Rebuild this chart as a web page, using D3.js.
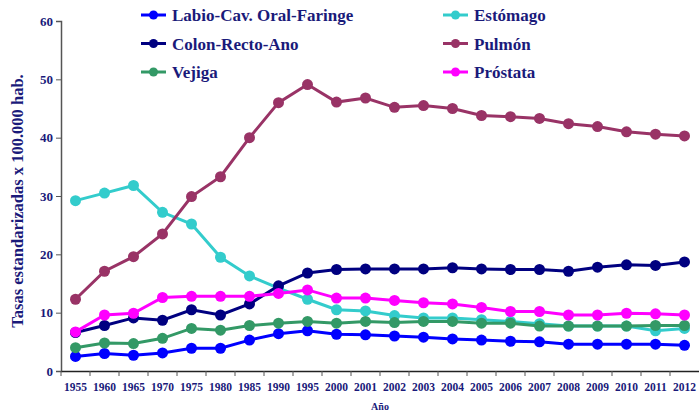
<!DOCTYPE html>
<html>
<head>
<meta charset="utf-8">
<script src="https://cdn.jsdelivr.net/npm/d3@7"></script>
<style>
  body { margin: 0; background: #fff; }
  svg text { font-family: "Liberation Serif", "Times New Roman", serif; font-weight: bold; fill: #1a1a7a; }
</style>
</head>
<body>
<svg id="chart" width="699" height="414"></svg>
<script>
// years on the x axis
var years = ["1955","1960","1965","1970","1975","1980","1985","1990","1995","2000","2001",
  "2002","2003","2004","2005","2006","2007","2008","2009","2010","2011","2012"];
var yTicks = [0, 10, 20, 30, 40, 50, 60];

var labio    = [2.5,3.0,2.7,3.1,3.9,3.9,5.3,6.4,6.9,6.3,6.2,6.0,5.8,5.5,5.3,5.1,5.0,4.6,4.6,4.6,4.6,4.4];
var estomago = [29.2,30.5,31.8,27.2,25.2,19.5,16.3,14.2,12.3,10.5,10.3,9.5,9.1,9.1,8.8,8.5,8.1,7.7,7.7,7.7,6.9,7.3];
var colon    = [6.6,7.8,9.1,8.7,10.5,9.6,11.5,14.6,16.8,17.4,17.5,17.5,17.5,17.7,17.5,17.4,17.4,17.1,17.8,18.2,18.1,18.7];
var pulmon   = [12.3,17.1,19.6,23.5,29.9,33.3,40.0,46.0,49.1,46.1,46.8,45.2,45.5,45.0,43.8,43.6,43.3,42.4,41.9,41.0,40.6,40.3];
var vejiga   = [4.0,4.8,4.7,5.6,7.3,7.0,7.8,8.2,8.5,8.2,8.5,8.3,8.5,8.5,8.2,8.2,7.7,7.7,7.7,7.7,7.8,7.8];
var prostata = [6.7,9.6,9.9,12.6,12.8,12.8,12.8,13.3,13.9,12.5,12.5,12.1,11.7,11.5,10.9,10.2,10.2,9.6,9.6,9.9,9.8,9.6];

var series = [
  {name: "Labio-Cav. Oral-Faringe", values: labio, color: "#0000ff"},
  {name: "Estómago", values: estomago, color: "#33cccc"},
  {name: "Colon-Recto-Ano", values: colon, color: "#000080"},
  {name: "Pulmón", values: pulmon, color: "#993366"},
  {name: "Vejiga", values: vejiga, color: "#339966"},
  {name: "Próstata", values: prostata, color: "#ff00ff"}
];

var svg = d3.select("#chart"),
  plotLeft = 61, plotRight = 699, plotTop = 21, plotBottom = 371;

var x = d3.scaleBand().domain(years).range([plotLeft, plotRight]);
var y = d3.scaleLinear().domain([0, 60]).range([plotBottom, plotTop]);

// y axis
var yAxis = svg.append("g")
  .attr("transform", "translate(" + plotLeft + ",0)")
  .call(d3.axisLeft(y).tickValues(yTicks).tickSize(5).tickPadding(3));
yAxis.select(".domain").attr("stroke", "#555").attr("stroke-width", 1.5);
yAxis.selectAll(".tick line").attr("stroke", "#555");
yAxis.selectAll("text").style("font-size", "13px").attr("fill", null);

// x axis, ticks between categories
var xAxis = svg.append("g")
  .attr("transform", "translate(0," + plotBottom + ")")
  .call(d3.axisBottom(x).tickSize(0).tickPadding(12));
xAxis.select(".domain").attr("stroke", "#222").attr("stroke-width", 1.5);
xAxis.selectAll("text").style("font-size", "11.5px").attr("fill", null);
xAxis.selectAll(".sep")
  .data(years)
  .enter().append("line")
  .attr("x1", function(d) { return x(d); })
  .attr("x2", function(d) { return x(d); })
  .attr("y1", 0).attr("y2", 5)
  .attr("stroke", "#555");

svg.append("text")
  .attr("x", (plotLeft + plotRight) / 2).attr("y", 410)
  .attr("text-anchor", "middle")
  .style("font-size", "10px")
  .text("Año");

svg.append("text")
  .attr("transform", "translate(23," + ((plotTop + plotBottom) / 2 + 5) + ") rotate(-90)")
  .attr("text-anchor", "middle")
  .style("font-size", "16.5px")
  .text("Tasas estandarizadas x 100.000 hab.");

var line = d3.line()
  .x(function(d, i) { return x(years[i]) + x.bandwidth() / 2; })
  .y(function(d) { return y(d); });

series.forEach(function(s) {
  var g = svg.append("g");
  g.append("path")
    .datum(s.values)
    .attr("d", line)
    .attr("fill", "none")
    .attr("stroke", s.color)
    .attr("stroke-width", 3);
  g.selectAll("circle")
    .data(s.values)
    .enter().append("circle")
    .attr("cx", function(d, i) { return x(years[i]) + x.bandwidth() / 2; })
    .attr("cy", function(d) { return y(d); })
    .attr("r", 5.5)
    .attr("fill", s.color);
});

// legend, two columns
var legend = svg.append("g");
series.forEach(function(s, i) {
  var col = i % 2, row = Math.floor(i / 2);
  var lx = col === 0 ? 141 : 443, ly = 15 + row * 28.5;
  var item = legend.append("g").attr("transform", "translate(" + lx + "," + ly + ")");
  item.append("line").attr("x1", 0).attr("x2", 25).attr("y1", 0).attr("y2", 0)
    .attr("stroke", s.color).attr("stroke-width", 3);
  item.append("circle").attr("cx", 12.5).attr("cy", 0).attr("r", 4.5).attr("fill", s.color);
  item.append("text").attr("x", 31).attr("y", 6)
    .style("font-size", "17px")
    .text(s.name);
});
</script>
</body>
</html>
